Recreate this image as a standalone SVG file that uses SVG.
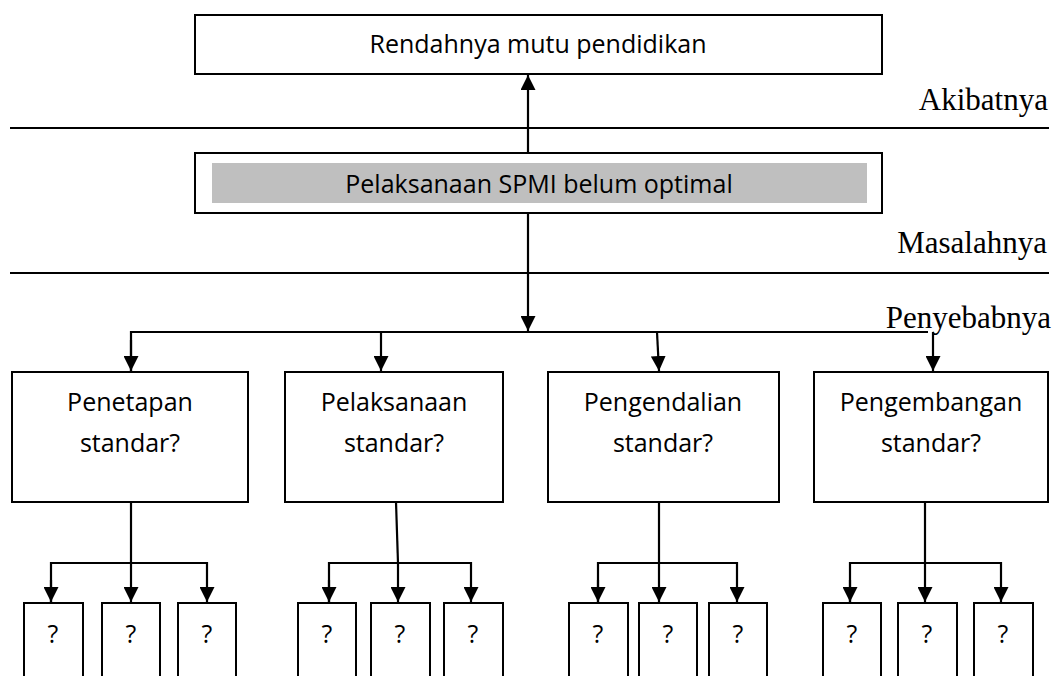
<svg xmlns="http://www.w3.org/2000/svg" width="1060" height="676" viewBox="0 0 1060 676">
<style>
.box{fill:#fff;stroke:#000;stroke-width:2}
.t{font-family:"Open Sans","Noto Sans",sans-serif;font-size:25px;fill:#000;text-anchor:middle}
.lbl{font-family:"Liberation Serif","Times New Roman",serif;font-size:31px;fill:#000;text-anchor:end}
.ln{stroke:#000;stroke-width:2;fill:none}
.c{stroke:#000;stroke-width:2.2;fill:none}
</style>
<defs>
<marker id="ah" viewBox="0 0 10 10" refX="10" refY="5" markerWidth="15" markerHeight="15" markerUnits="userSpaceOnUse" orient="auto">
<path d="M0,0 L10,5 L0,10 Z" fill="#000"/>
</marker>
</defs>
<g id="separators">
<line class="ln" x1="10" y1="128" x2="1049" y2="128"/>
<line class="ln" x1="10" y1="273" x2="1049" y2="273"/>
</g>
<g id="labels">
<text class="lbl" x="1048" y="110">Akibatnya</text>
<text class="lbl" x="1047" y="253">Masalahnya</text>
<text class="lbl" x="1051" y="328">Penyebabnya</text>
</g>
<g id="connectors">
<line class="c" x1="528" y1="153" x2="528" y2="75" marker-end="url(#ah)"/>
<line class="c" x1="528" y1="213" x2="528" y2="331" marker-end="url(#ah)"/>
<polyline class="c" points="131,372 131,332 928,332"/>
<line class="c" x1="131" y1="340" x2="131" y2="371" marker-end="url(#ah)"/>
<line class="c" x1="381" y1="332" x2="381" y2="371" marker-end="url(#ah)"/>
<line class="c" x1="657" y1="332" x2="659" y2="371" marker-end="url(#ah)"/>
<line class="c" x1="933" y1="332" x2="933" y2="371" marker-end="url(#ah)"/>
<line class="c" x1="131" y1="502" x2="131" y2="563"/>
<polyline class="c" points="51,602 51,563 207,563 207,602" marker-end="url(#ah)"/>
<line class="c" x1="51" y1="580" x2="51" y2="602" marker-end="url(#ah)"/>
<line class="c" x1="131" y1="563" x2="131" y2="602" marker-end="url(#ah)"/>
<line class="c" x1="396" y1="502" x2="398" y2="563"/>
<polyline class="c" points="329,602 329,563 471,563 471,602" marker-end="url(#ah)"/>
<line class="c" x1="329" y1="580" x2="329" y2="602" marker-end="url(#ah)"/>
<line class="c" x1="398" y1="563" x2="398" y2="602" marker-end="url(#ah)"/>
<line class="c" x1="659" y1="502" x2="659" y2="563"/>
<polyline class="c" points="598,602 598,563 737,563 737,602" marker-end="url(#ah)"/>
<line class="c" x1="598" y1="580" x2="598" y2="602" marker-end="url(#ah)"/>
<line class="c" x1="659" y1="563" x2="659" y2="602" marker-end="url(#ah)"/>
<line class="c" x1="925" y1="502" x2="925" y2="563"/>
<polyline class="c" points="850,602 850,563 1001,563 1001,602" marker-end="url(#ah)"/>
<line class="c" x1="850" y1="580" x2="850" y2="602" marker-end="url(#ah)"/>
<line class="c" x1="925" y1="563" x2="925" y2="602" marker-end="url(#ah)"/>
</g>
<g id="akibat">
<rect class="box" x="195" y="15" width="687" height="59"/>
<text class="t" x="538" y="53">Rendahnya mutu pendidikan</text>
</g>
<g id="masalah">
<rect class="box" x="195" y="153" width="687" height="60"/>
<rect x="212" y="163" width="655" height="40" fill="#bfbfbf"/>
<text class="t" x="539" y="193">Pelaksanaan SPMI belum optimal</text>
</g>
<g id="penetapan">
<rect class="box" x="12" y="372" width="236" height="130"/>
<text class="t" x="130" y="411">Penetapan</text>
<text class="t" x="130" y="452">standar?</text>
</g>
<g id="pelaksanaan">
<rect class="box" x="285" y="372" width="218" height="130"/>
<text class="t" x="394" y="411">Pelaksanaan</text>
<text class="t" x="394" y="452">standar?</text>
</g>
<g id="pengendalian">
<rect class="box" x="548" y="372" width="231" height="130"/>
<text class="t" x="663" y="411">Pengendalian</text>
<text class="t" x="663" y="452">standar?</text>
</g>
<g id="pengembangan">
<rect class="box" x="814" y="372" width="234" height="130"/>
<text class="t" x="931" y="411">Pengembangan</text>
<text class="t" x="931" y="452">standar?</text>
</g>
<g id="q1a"><rect class="box" x="24" y="603" width="59" height="80"/><text class="t" x="53" y="643">?</text></g>
<g id="q1b"><rect class="box" x="102" y="603" width="58" height="80"/><text class="t" x="131" y="643">?</text></g>
<g id="q1c"><rect class="box" x="178" y="603" width="58" height="80"/><text class="t" x="207" y="643">?</text></g>
<g id="q2a"><rect class="box" x="298" y="603" width="58" height="80"/><text class="t" x="327" y="643">?</text></g>
<g id="q2b"><rect class="box" x="371" y="603" width="59" height="80"/><text class="t" x="400" y="643">?</text></g>
<g id="q2c"><rect class="box" x="444" y="603" width="59" height="80"/><text class="t" x="473" y="643">?</text></g>
<g id="q3a"><rect class="box" x="569" y="603" width="59" height="80"/><text class="t" x="598" y="643">?</text></g>
<g id="q3b"><rect class="box" x="639" y="603" width="58" height="80"/><text class="t" x="668" y="643">?</text></g>
<g id="q3c"><rect class="box" x="709" y="603" width="58" height="80"/><text class="t" x="738" y="643">?</text></g>
<g id="q4a"><rect class="box" x="823" y="603" width="58" height="80"/><text class="t" x="852" y="643">?</text></g>
<g id="q4b"><rect class="box" x="898" y="603" width="59" height="80"/><text class="t" x="927" y="643">?</text></g>
<g id="q4c"><rect class="box" x="974" y="603" width="59" height="80"/><text class="t" x="1003" y="643">?</text></g>
</svg>
